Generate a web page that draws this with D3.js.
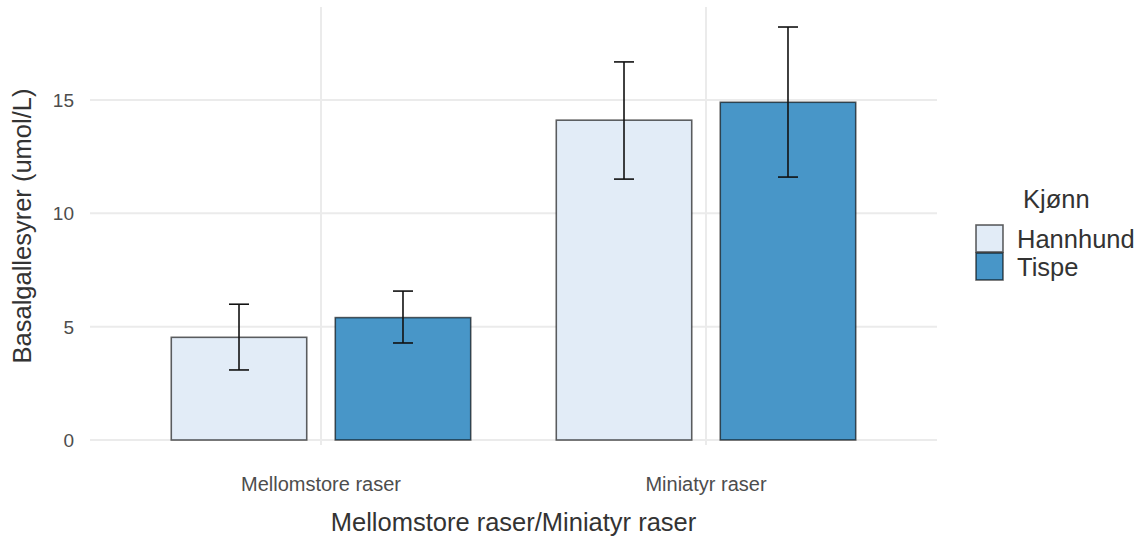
<!DOCTYPE html>
<html><head><meta charset="utf-8">
<script src="https://cdn.jsdelivr.net/npm/d3@7"></script>
<style>
html,body{margin:0;padding:0;background:#fff;}
svg{display:block;font-family:"Liberation Sans",Arial,sans-serif;}
</style></head>
<body><svg id="chart" width="1144" height="541"></svg>
<script>
const categories = ["Mellomstore raser", "Miniatyr raser"];
const groups = ["Hannhund", "Tispe"];
const meanHannhund = [4.53, 14.11];
const meanTispe = [5.40, 14.90];
const lowHannhund = [3.09, 11.51];
const highHannhund = [5.99, 16.68];
const lowTispe = [4.28, 11.60];
const highTispe = [6.57, 18.22];
const yTicks = [0, 5, 10, 15];
const colors = ["#e2ecf7", "#4896c8"];
const xTitle = "Mellomstore raser/Miniatyr raser";
const yTitle = "Basalgallesyrer (umol/L)";
const legendTitle = "Kjønn";

const rows = [];
categories.forEach((c, i) => {
  rows.push({cat: c, grp: groups[0], v: meanHannhund[i], lo: lowHannhund[i], hi: highHannhund[i]});
  rows.push({cat: c, grp: groups[1], v: meanTispe[i], lo: lowTispe[i], hi: highTispe[i]});
});

const svg = d3.select("#chart");
const panel = {left: 90, right: 937, top: 7, bottom: 445};

const x = d3.scaleBand().domain(categories).range([panel.left, panel.right])
  .paddingInner(0.1).paddingOuter(0.15);
const xg = d3.scaleBand().domain(groups).range([0, x.bandwidth()])
  .paddingInner(0.174).paddingOuter(0.1435);
const y = d3.scaleLinear().domain([0, 15]).range([440, 100]);
const color = d3.scaleOrdinal().domain(groups).range(colors);

// gridlines
svg.append("g").selectAll("line").data(yTicks).join("line")
  .attr("x1", panel.left).attr("x2", panel.right)
  .attr("y1", d => y(d)).attr("y2", d => y(d))
  .attr("stroke", "#ebebeb").attr("stroke-width", 2);
svg.append("g").selectAll("line").data(categories).join("line")
  .attr("x1", d => x(d) + x.bandwidth()/2).attr("x2", d => x(d) + x.bandwidth()/2)
  .attr("y1", panel.top).attr("y2", panel.bottom)
  .attr("stroke", "#ebebeb").attr("stroke-width", 2);

// bars
svg.append("g").selectAll("rect").data(rows).join("rect")
  .attr("x", d => x(d.cat) + xg(d.grp))
  .attr("width", xg.bandwidth())
  .attr("y", d => y(d.v))
  .attr("height", d => y(0) - y(d.v))
  .attr("fill", d => color(d.grp))
  .attr("stroke", "rgba(0,0,0,0.62)").attr("stroke-width", 1.6);

// error bars
const eb = svg.append("g").attr("stroke", "#111").attr("stroke-width", 1.6).attr("fill", "none");
const half = 10;
rows.forEach(d => {
  const cx = x(d.cat) + xg(d.grp) + xg.bandwidth()/2;
  eb.append("line").attr("x1", cx).attr("x2", cx).attr("y1", y(d.lo)).attr("y2", y(d.hi));
  eb.append("line").attr("x1", cx-half).attr("x2", cx+half).attr("y1", y(d.lo)).attr("y2", y(d.lo));
  eb.append("line").attr("x1", cx-half).attr("x2", cx+half).attr("y1", y(d.hi)).attr("y2", y(d.hi));
});

// y tick labels
svg.append("g").selectAll("text").data(yTicks).join("text")
  .attr("x", 74).attr("y", d => y(d)).attr("dy", "0.36em")
  .attr("text-anchor", "end").attr("fill", "#4d4d4d").attr("font-size", 19)
  .text(d => d);

// x tick labels
svg.append("g").selectAll("text").data(categories).join("text")
  .attr("x", d => x(d) + x.bandwidth()/2).attr("y", 491)
  .attr("text-anchor", "middle").attr("fill", "#4d4d4d").attr("font-size", 20)
  .text(d => d);

// axis titles
svg.append("text").attr("x", (panel.left + panel.right)/2).attr("y", 531)
  .attr("text-anchor", "middle").attr("fill", "#333").attr("font-size", 25.5)
  .text(xTitle);
svg.append("text").attr("transform", `translate(31,${(panel.top+panel.bottom)/2}) rotate(-90)`)
  .attr("text-anchor", "middle").attr("fill", "#333").attr("font-size", 25.5)
  .text(yTitle);

// legend
const lg = svg.append("g");
lg.append("text").attr("x", 1023).attr("y", 208).attr("fill", "#333").attr("font-size", 25.5).text(legendTitle);
const keyTop = [225, 253];
groups.forEach((g, i) => {
  lg.append("rect").attr("x", 976).attr("y", keyTop[i]).attr("width", 27).attr("height", 27)
    .attr("fill", color(g)).attr("stroke", "rgba(0,0,0,0.62)").attr("stroke-width", 1.6);
  lg.append("text").attr("x", 1017).attr("y", keyTop[i] + 23).attr("fill", "#333")
    .attr("font-size", 25.5).text(g);
});
</script></body></html>
